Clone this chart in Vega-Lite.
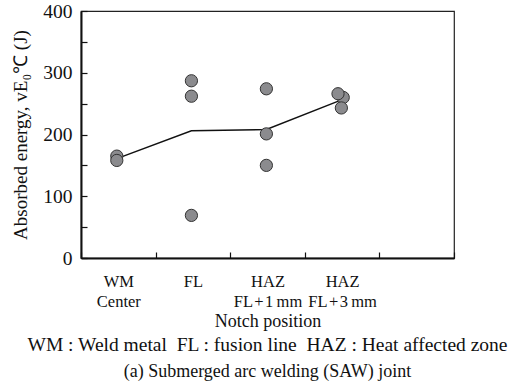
{
  "$schema": "https://vega.github.io/schema/vega-lite/v6.json",
  "width": 373,
  "height": 247,
  "autosize": {"type": "none"},
  "padding": {"left": 81, "top": 11, "right": 59, "bottom": 133},
  "background": "white",
  "config": {
    "font": "Liberation Serif",
    "view": {"stroke": "#222", "strokeWidth": 1.2},
    "style": {
      "guide-label": {"font": "Liberation Serif"},
      "guide-title": {"font": "Liberation Serif"}
    },
    "axis": {"labelFont": "Liberation Serif", "titleFont": "Liberation Serif", "labelColor": "#111", "titleColor": "#111", "domainColor": "#111", "tickColor": "#111", "domainWidth": 2, "tickWidth": 1.2, "grid": false, "titleFontWeight": "normal"}
  },
  "title": {
    "text": "WM : Weld metal\u00a0 FL : fusion line\u00a0 HAZ : Heat affected zone",
    "subtitle": "(a) Submerged arc welding (SAW) joint",
    "orient": "bottom",
    "anchor": "middle",
    "font": "Liberation Serif",
    "fontSize": 19.5,
    "fontWeight": "normal",
    "color": "#111",
    "subtitleFont": "Liberation Serif",
    "subtitleFontSize": 18,
    "subtitleColor": "#111",
    "subtitlePadding": 8,
    "offset": 5
  },
  "datasets": {
    "points": [
      {"pos": "WM", "energy": 165, "jitter": -0.04},
      {"pos": "WM", "energy": 158, "jitter": -0.04},
      {"pos": "FL", "energy": 287, "jitter": -0.04},
      {"pos": "FL", "energy": 262, "jitter": -0.04},
      {"pos": "FL", "energy": 69, "jitter": -0.04},
      {"pos": "HAZ1", "energy": 274, "jitter": -0.03},
      {"pos": "HAZ1", "energy": 201, "jitter": -0.03},
      {"pos": "HAZ1", "energy": 150, "jitter": -0.03},
      {"pos": "HAZ3", "energy": 260, "jitter": 0.03},
      {"pos": "HAZ3", "energy": 243, "jitter": -0.02},
      {"pos": "HAZ3", "energy": 266, "jitter": -0.11}
    ],
    "means": [
      {"pos": "WM", "energy": 161, "jitter": -0.04},
      {"pos": "FL", "energy": 206, "jitter": -0.04},
      {"pos": "HAZ1", "energy": 208, "jitter": -0.03},
      {"pos": "HAZ3", "energy": 254, "jitter": -0.1}
    ]
  },
  "encoding": {
    "x": {
      "field": "pos",
      "type": "nominal",
      "scale": {"domain": ["WM", "FL", "HAZ1", "HAZ3", "END"], "paddingInner": 0, "paddingOuter": 0},
      "axis": {
        "title": "Notch position",
        "titleFont": "Liberation Serif",
        "titleFontSize": 18,
        "titleFontWeight": "normal",
        "titlePadding": 3,
        "labelFont": "Liberation Serif",
        "labelAngle": 0,
        "labelFontSize": 16.5,
        "labelLineHeight": 20,
        "labelPadding": 21,
        "tickBand": "extent",
        "tickSize": -6,
        "labelExpr": "datum.value == 'WM' ? ['WM', 'Center'] : datum.value == 'FL' ? ['FL', ''] : datum.value == 'HAZ1' ? ['HAZ', 'FL\u200a+\u200a1\u2009mm'] : datum.value == 'HAZ3' ? ['HAZ', 'FL\u200a+\u200a3\u2009mm'] : ''"
      }
    },
    "xOffset": {"field": "jitter", "type": "quantitative", "scale": {"domain": [-1, 1]}},
    "y": {
      "field": "energy",
      "type": "quantitative",
      "scale": {"domain": [0, 400], "nice": false},
      "axis": {
        "title": "Absorbed energy, vE₀℃ (J)",
        "titleFont": "Liberation Serif",
        "titleFontSize": 19,
        "titleFontWeight": "normal",
        "titlePadding": 12,
        "labelFont": "Liberation Serif",
        "labelFontSize": 19.5,
        "labelPadding": 15,
        "tickSize": -6,
        "values": [0, 50, 100, 150, 200, 250, 300, 350, 400],
        "labelExpr": "datum.value % 100 == 0 ? datum.label : ''"
      }
    }
  },
  "layer": [
    {
      "data": {"name": "means"},
      "mark": {"type": "line", "color": "#111", "strokeWidth": 1.5}
    },
    {
      "data": {"name": "points"},
      "mark": {"type": "point", "shape": "circle", "filled": true, "size": 150, "fill": "#8b8b8e", "stroke": "#333", "strokeWidth": 1, "opacity": 1}
    }
  ]
}
